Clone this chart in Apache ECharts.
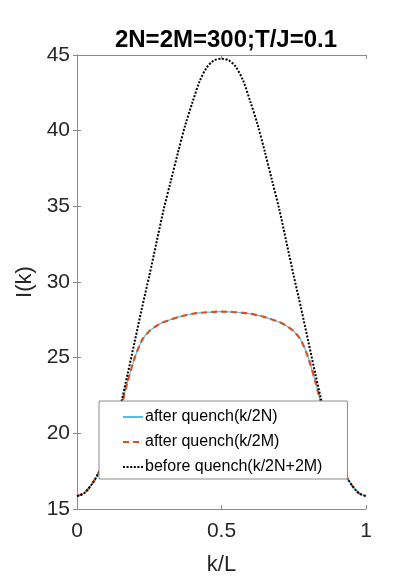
<!DOCTYPE html>
<html>
<head>
<meta charset="utf-8">
<script src="https://cdn.jsdelivr.net/npm/echarts@6/dist/echarts.min.js"></script>
<style>
  html, body { margin: 0; padding: 0; background: #fff; }
  #chart { width: 415px; height: 588px; }
</style>
</head>
<body>
<div id="chart"></div>
<script>
// k/L sample positions
const kVals = [0, 0.025, 0.05, 0.075, 0.1, 0.125, 0.15, 0.175, 0.2, 0.225, 0.25, 0.275, 0.3, 0.325, 0.35, 0.375, 0.4, 0.425, 0.45, 0.475, 0.5,
  0.525, 0.55, 0.575, 0.6, 0.625, 0.65, 0.675, 0.7, 0.725, 0.75, 0.775, 0.8, 0.825, 0.85, 0.875, 0.9, 0.925, 0.95, 0.975, 1]

// after quench (k/2N)
const afterN = [15.85, 16.05, 16.6, 17.4, 18.5, 19.95, 21.55, 23.4, 25.0, 26.15, 26.75, 27.1, 27.35, 27.52, 27.68, 27.8, 27.9, 27.96, 28.0, 28.03, 28.04,
  28.03, 28.0, 27.96, 27.9, 27.8, 27.68, 27.52, 27.35, 27.1, 26.75, 26.15, 25.0, 23.4, 21.55, 19.95, 18.5, 17.4, 16.6, 16.05, 15.85]

// after quench (k/2M)
const afterM = [15.85, 16.05, 16.6, 17.4, 18.5, 19.95, 21.55, 23.4, 25.0, 26.15, 26.75, 27.1, 27.35, 27.52, 27.68, 27.8, 27.9, 27.96, 28.0, 28.03, 28.04,
  28.03, 28.0, 27.96, 27.9, 27.8, 27.68, 27.52, 27.35, 27.1, 26.75, 26.15, 25.0, 23.4, 21.55, 19.95, 18.5, 17.4, 16.6, 16.05, 15.85]

// before quench (k/2N+2M)
const before = [15.85, 16.05, 16.6, 17.4, 18.5, 20.0, 21.8, 23.9, 26.1, 28.3, 30.4, 32.6, 34.8, 36.7, 38.6, 40.4, 41.9, 43.3, 44.2, 44.65, 44.75,
  44.65, 44.2, 43.3, 41.9, 40.4, 38.6, 36.7, 34.8, 32.6, 30.4, 28.3, 26.1, 23.9, 21.8, 20.0, 18.5, 17.4, 16.6, 16.05, 15.85]

const xTicks = [0, 0.5, 1]
const titleText = '2N=2M=300;T/J=0.1'
const seriesNames = ['after quench(k/2N)', 'after quench(k/2M)', 'before quench(k/2N+2M)']

const font = 'Liberation Sans, Arial, Helvetica, sans-serif'
const axisGray = '#8c8c8c'
const labelColor = '#262626'

const pairs = arr => kVals.map((k, i) => [k, arr[i]])

const chart = echarts.init(document.getElementById('chart'), null, { renderer: 'canvas' })

const baseX = {
  type: 'value',
  min: 0,
  max: 1,
  interval: 0.5,
  splitLine: { show: false },
  axisLine: { show: true, lineStyle: { color: axisGray, width: 1 } },
  axisTick: { show: true, inside: true, length: 4, lineStyle: { color: axisGray } }
}
const baseY = {
  type: 'value',
  min: 15,
  max: 45,
  interval: 5,
  splitLine: { show: false },
  axisLine: { show: true, lineStyle: { color: axisGray, width: 1 } },
  axisTick: { show: true, inside: true, length: 4, lineStyle: { color: axisGray } }
}

const option = {
  backgroundColor: '#ffffff',
  animation: false,
  title: {
    text: titleText,
    left: 221,
    top: 23,
    textAlign: 'center',
    textStyle: { fontFamily: font, fontSize: 24, fontWeight: 'bold', color: '#000' }
  },
  grid: { left: 77, right: 49, top: 55, bottom: 79, containLabel: false },
  legend: {
    orient: 'vertical',
    left: 99,
    top: 401,
    z: 50,
    padding: [8, 25, 4, 23],
    itemGap: 9,
    itemWidth: 20,
    itemHeight: 14,
    backgroundColor: '#ffffff',
    borderColor: axisGray,
    borderWidth: 1,
    borderRadius: 0,
    itemStyle: { opacity: 0 },
    data: seriesNames,
    textStyle: { fontFamily: font, fontSize: 16, color: '#000', lineHeight: 16, padding: [0, 0, 0, -3] }
  },
  xAxis: [
    Object.assign({}, baseX, {
      position: 'bottom',
      name: 'k/L',
      nameLocation: 'middle',
      nameGap: 45,
      nameTextStyle: { fontFamily: font, fontSize: 22, color: labelColor },
      axisLabel: {
        margin: 12,
        fontFamily: font,
        fontSize: 21,
        color: labelColor,
        formatter: v => (xTicks.indexOf(v) >= 0 ? String(v) : '')
      }
    }),
    Object.assign({}, baseX, { position: 'top', axisLabel: { show: false } })
  ],
  yAxis: [
    Object.assign({}, baseY, {
      position: 'left',
      name: 'I(k)',
      nameLocation: 'middle',
      nameGap: 32,
      nameTextStyle: { fontFamily: font, fontSize: 22, color: labelColor },
      axisLabel: { margin: 7, fontFamily: font, fontSize: 21, color: labelColor }
    }),
    Object.assign({}, baseY, { position: 'right', axisLabel: { show: false } })
  ],
  series: [
    {
      name: seriesNames[0],
      type: 'line',
      data: pairs(afterN),
      smooth: 0.3,
      symbol: 'none',
      lineStyle: { color: '#4DBEEE', width: 1.2 },
      itemStyle: { color: '#4DBEEE' },
      z: 2
    },
    {
      name: seriesNames[1],
      type: 'line',
      data: pairs(afterM),
      smooth: 0.3,
      symbol: 'none',
      lineStyle: { color: '#D95319', width: 2.2, type: [6, 4] },
      itemStyle: { color: '#D95319' },
      z: 2
    },
    {
      name: seriesNames[2],
      type: 'line',
      data: pairs(before),
      smooth: 0.3,
      symbol: 'none',
      lineStyle: { color: '#000000', width: 2, type: [2, 1.6] },
      itemStyle: { color: '#000000' },
      z: 2
    }
  ]
}

chart.setOption(option)
</script>
</body>
</html>
